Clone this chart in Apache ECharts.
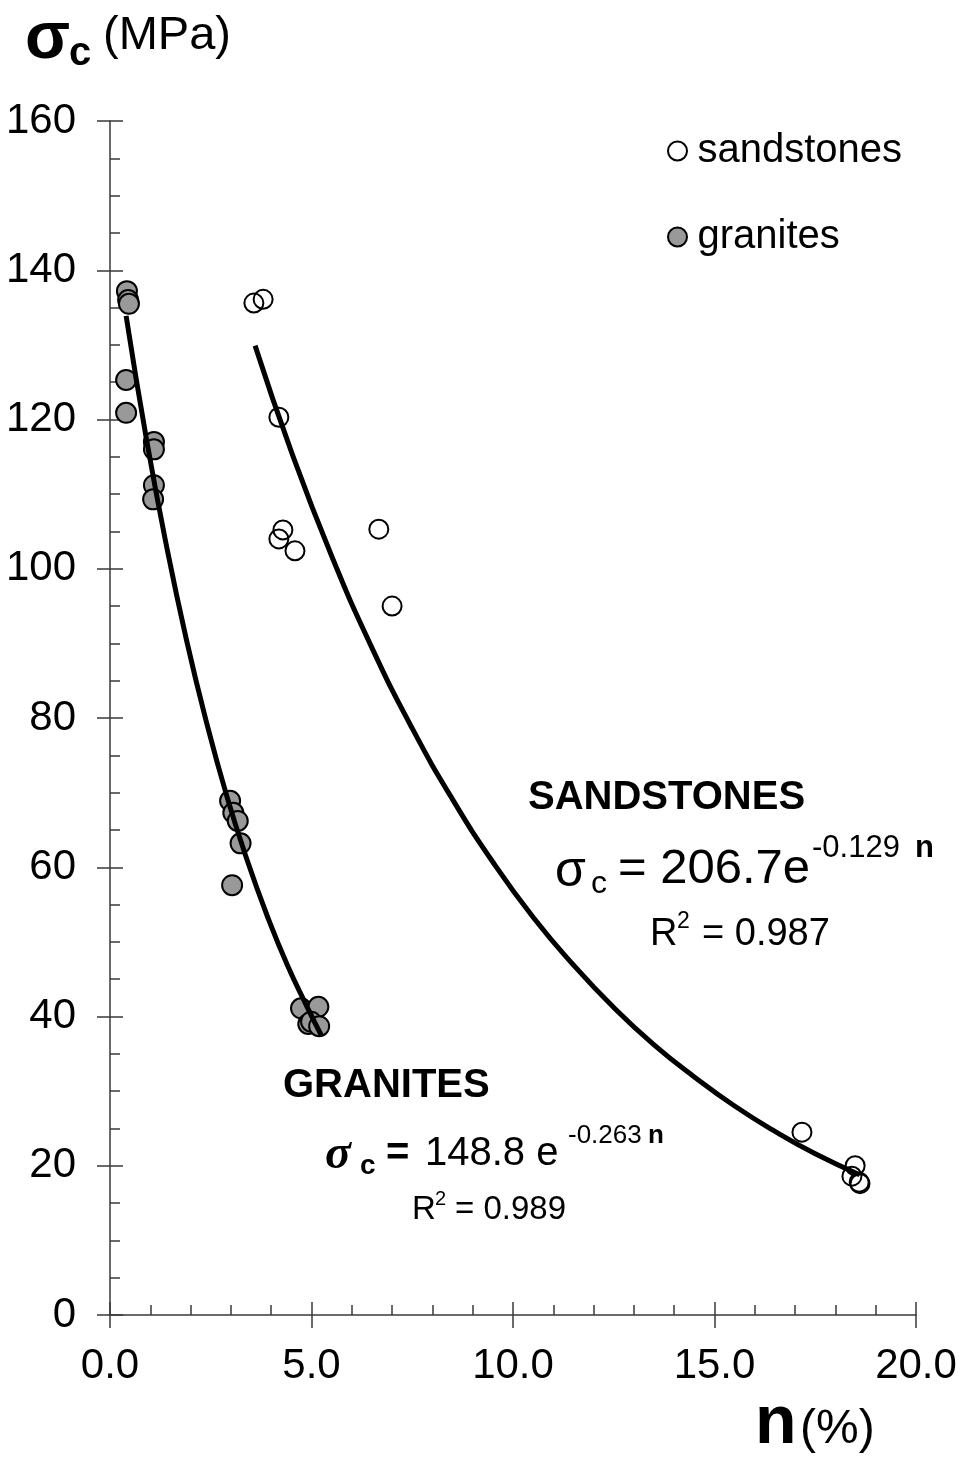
<!DOCTYPE html>
<html>
<head>
<meta charset="utf-8">
<script src="https://cdn.jsdelivr.net/npm/echarts@6/dist/echarts.min.js"></script>
<style>
html,body{margin:0;padding:0;background:#fff;}
#chart{width:960px;height:1457px;}
</style>
</head>
<body>
<div id="chart"></div>
<script>
// ---- data ----
const xTicks = [0, 5, 10, 15, 20];
const yTicks = [0, 20, 40, 60, 80, 100, 120, 140, 160];

const sandN = [3.57, 3.80, 4.19, 4.19, 4.29, 4.59, 6.67, 7.00, 17.17, 18.49, 18.41, 18.59, 18.61];
const sandS = [135.6, 136.1, 120.3, 104.0, 105.2, 102.4, 105.3, 95.0, 24.5, 20.0, 18.6, 17.8, 17.6];

const graniteN = [0.42, 0.45, 0.47, 0.40, 0.40, 1.09, 1.09, 1.09, 1.07, 2.98, 3.06, 3.17, 3.24, 3.03, 4.74, 5.17, 4.92, 4.99, 5.19];
const graniteS = [137.2, 136.0, 135.5, 125.3, 120.9, 117.0, 116.0, 111.2, 109.3, 68.9, 67.3, 66.2, 63.2, 57.6, 41.1, 41.3, 39.0, 39.3, 38.7];

// fitted curves as drawn
const sandCurveN = [3.6, 4.5, 5.5, 6.5, 7.5, 8.5, 9.5, 10.5, 11.5, 12.5, 13.5, 14.5, 15.5, 16.5, 17.5, 18.6];
const sandCurveS = [129.9, 115.7, 101.7, 89.4, 78.6, 69.1, 60.7, 53.3, 46.9, 41.2, 36.2, 31.9, 28.0, 24.6, 21.6, 18.8];
const graniteCurveN = [0.4, 0.9, 1.4, 1.9, 2.4, 2.9, 3.4, 3.9, 4.4, 4.9, 5.25];
const graniteCurveS = [133.9, 117.5, 103.1, 90.4, 79.3, 69.5, 61.0, 53.5, 46.9, 41.2, 37.4];

const zip = (a, b) => a.map((v, i) => [v, b[i]]);

const FF = "'Liberation Sans', Arial, sans-serif";
const AX = '#3a3a3a';

function txt(text, x, y, size, opts) {
  opts = opts || {};
  return {
    type: 'text', x: x, y: y, z: 100,
    scaleY: opts.sy || 1,
    style: {
      text: text, x: 0, y: 0,
      fill: '#000',
      font: (opts.italic ? 'italic ' : '') + (opts.bold ? 'bold ' : '') + size + 'px ' + (opts.family || FF),
      align: 'left', verticalAlign: 'middle',
      textAlign: 'left', textVerticalAlign: 'middle'
    }
  };
}

const chart = echarts.init(document.getElementById('chart'));
const option = {
  backgroundColor: '#fff',
  animation: false,
  grid: { left: 110, right: 44, top: 121, bottom: 142, outerBoundsMode: 'none', containLabel: false },
  legend: {
    data: ['sandstones', 'granites'],
    orient: 'vertical',
    left: 662, top: 126,
    itemWidth: 30, itemHeight: 19, itemGap: 46,
    textStyle: { fontSize: 40, fontFamily: FF, color: '#000', lineHeight: 40 }
  },
  xAxis: [
    {
      type: 'value', min: xTicks[0], max: xTicks[xTicks.length - 1], interval: xTicks[1] - xTicks[0],
      axisLine: { show: true, onZero: false, lineStyle: { color: AX, width: 1.5 } },
      axisTick: { show: true, inside: false, length: 13, lineStyle: { color: AX, width: 1.5 } },
      axisLabel: { show: true, margin: 30, fontSize: 42, fontFamily: FF, color: '#000',
        formatter: v => v.toFixed(1) },
      splitLine: { show: false }
    },
    {
      type: 'value', min: xTicks[0], max: xTicks[xTicks.length - 1], interval: xTicks[1] - xTicks[0],
      position: 'bottom',
      axisLine: { show: false, onZero: false },
      axisTick: { show: true, inside: true, length: 13, lineStyle: { color: AX, width: 1.5 } },
      minorTick: { show: true, splitNumber: 5, length: 10, lineStyle: { color: AX, width: 1.5 } },
      axisLabel: { show: false },
      splitLine: { show: false }
    }
  ],
  yAxis: [
    {
      type: 'value', min: yTicks[0], max: yTicks[yTicks.length - 1], interval: yTicks[1] - yTicks[0],
      axisLine: { show: true, onZero: false, lineStyle: { color: AX, width: 1.5 } },
      axisTick: { show: true, inside: false, length: 13, lineStyle: { color: AX, width: 1.5 } },
      axisLabel: { show: true, margin: 34, fontSize: 42, fontFamily: FF, color: '#000' },
      splitLine: { show: false }
    },
    {
      type: 'value', min: yTicks[0], max: yTicks[yTicks.length - 1], interval: yTicks[1] - yTicks[0],
      position: 'left',
      axisLine: { show: false, onZero: false },
      axisTick: { show: true, inside: true, length: 13, lineStyle: { color: AX, width: 1.5 } },
      minorTick: { show: true, splitNumber: 4, length: 10, lineStyle: { color: AX, width: 1.5 } },
      axisLabel: { show: false },
      splitLine: { show: false }
    }
  ],
  series: [
    {
      name: 'sandstones', type: 'scatter', xAxisIndex: 0, yAxisIndex: 0,
      data: zip(sandN, sandS), symbol: 'circle', symbolSize: 19, z: 3,
      itemStyle: { color: 'rgba(255,255,255,0)', borderColor: '#000', borderWidth: 2, opacity: 1 }
    },
    {
      name: 'granites', type: 'scatter', xAxisIndex: 0, yAxisIndex: 0,
      data: zip(graniteN, graniteS), symbol: 'circle', symbolSize: 20, z: 3,
      itemStyle: { color: '#999999', borderColor: '#000', borderWidth: 2, opacity: 1 }
    },
    {
      name: 'sandFit', type: 'line', xAxisIndex: 0, yAxisIndex: 0,
      data: zip(sandCurveN, sandCurveS), smooth: 0.5, showSymbol: false, symbol: 'none', z: 4,
      lineStyle: { color: '#000', width: 5 }
    },
    {
      name: 'graniteFit', type: 'line', xAxisIndex: 0, yAxisIndex: 0,
      data: zip(graniteCurveN, graniteCurveS), smooth: 0.5, showSymbol: false, symbol: 'none', z: 4,
      lineStyle: { color: '#000', width: 5 }
    }
  ],
  graphic: [
    // y-axis title
    txt('σ', 25, 40, 66, { bold: true }),
    txt('c', 69, 54, 40, { bold: true }),
    txt('(MPa)', 103, 36, 47),
    // x-axis title
    txt('n', 755, 1424, 68, { bold: true }),
    txt('(%)', 800, 1430, 48),
    // sandstones annotation
    txt('SANDSTONES', 528, 798, 40, { bold: true }),
    txt('σ', 555, 872, 50),
    txt('c', 591, 884, 32),
    txt('= 206.7e', 618, 869, 49),
    txt('-0.129', 812, 848, 31),
    txt('n', 915, 848, 31, { bold: true }),
    txt('R', 650, 935, 38),
    txt('2', 677, 922, 23),
    txt('= 0.987', 702, 935, 38),
    // granites annotation
    txt('GRANITES', 283, 1086, 40, { bold: true }),
    txt('σ', 325, 1156, 48, { bold: true, italic: true, family: "'Liberation Serif', 'Times New Roman', serif" }),
    txt('c', 360, 1166, 28, { bold: true }),
    txt('=', 386, 1154, 40, { bold: true }),
    txt('148.8 e', 425, 1154, 40),
    txt('-0.263', 568, 1136, 26),
    txt('n', 648, 1136, 26, { bold: true }),
    txt('R', 412, 1210, 33),
    txt('2', 435, 1199, 20),
    txt('= 0.989', 455, 1210, 33)
  ]
};
chart.setOption(option);
</script>
</body>
</html>
